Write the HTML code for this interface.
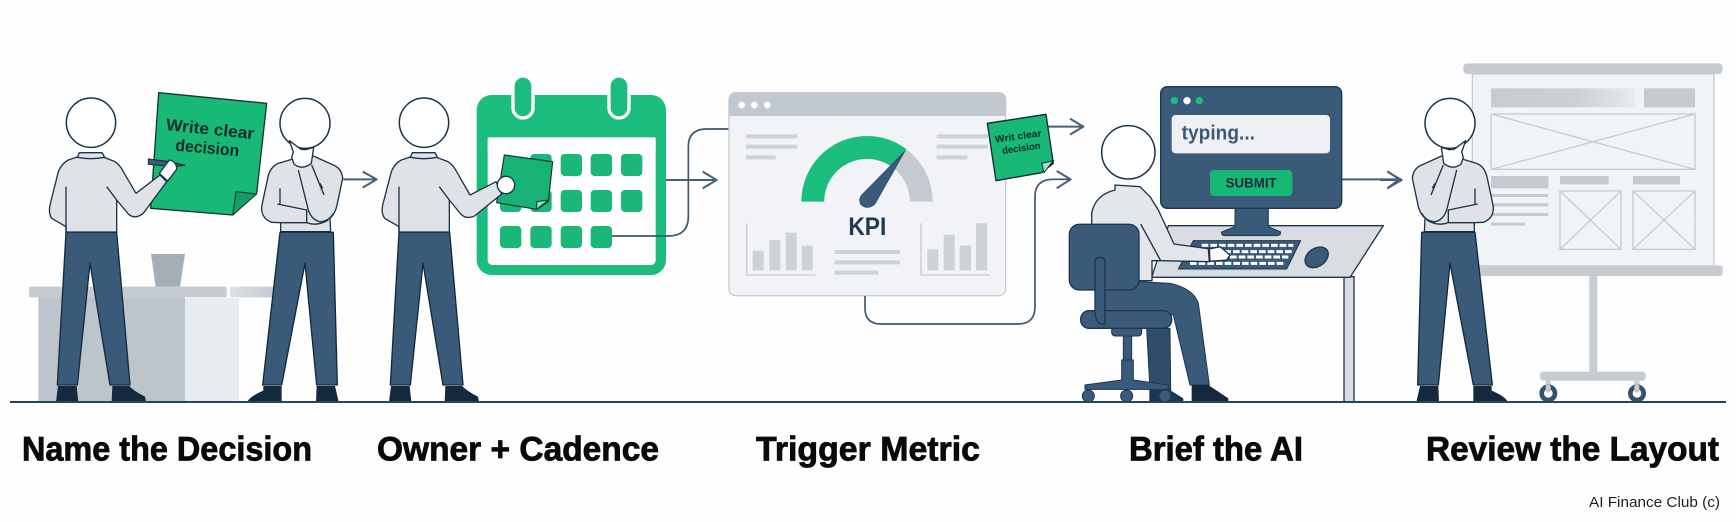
<!DOCTYPE html>
<html><head><meta charset="utf-8"><title>Decision Workflow</title>
<style>html,body{margin:0;padding:0;background:#fefefe}svg{display:block}
text{font-family:"Liberation Sans",sans-serif;font-weight:bold}</style></head>
<body>
<svg xmlns="http://www.w3.org/2000/svg" width="1736" height="522" viewBox="0 0 1736 522">
<defs>
<linearGradient id="fade" x1="0" x2="1" y1="0" y2="0"><stop offset="0" stop-color="#c5cbd1"/><stop offset=".6" stop-color="#ccd1d7"/><stop offset="1" stop-color="#e8ebee"/></linearGradient>
<linearGradient id="fade2" x1="0" x2="1" y1="0" y2="0"><stop offset="0" stop-color="#dde0e4"/><stop offset="1" stop-color="#c5cbd1"/></linearGradient>
<g id="legsA">
<path d="M198,547L350,547L390,1005L330,1005L270,640L232,1005L172,1005Z" fill="#3a5a7a" stroke="#16293c" stroke-width="4" stroke-linejoin="round"/>
<path d="M174,1008L230,1008L235,1056L168,1056Z" fill="#14293d"/>
<path d="M337,1008L388,1008Q400,1022 435,1040L438,1056L335,1056Z" fill="#14293d"/>
</g>
<g id="legsB">
<path d="M840,547L1000,547L1012,1005L950,1005L915,640L845,1005L788,1005Z" fill="#3a5a7a" stroke="#16293c" stroke-width="4" stroke-linejoin="round"/>
<path d="M790,1008L845,1008L845,1056L742,1056Q748,1040 790,1022Z" fill="#14293d"/>
<path d="M950,1008L1005,1008L1016,1056L948,1056Z" fill="#14293d"/>
</g>
<g id="thinker">
<use href="#legsB"/>
<path d="M875,328L835,340Q810,350 803,385L785,470Q783,505 815,517L842,518L842,547L992,547L990,505Q1005,490 1010,470L1028,385Q1025,355 1000,345L940,318Z" fill="#dfe3e8" stroke="#1c3348" stroke-width="4" stroke-linejoin="round"/>
<path d="M840,415V465M832,462L920,480V518M842,518H920Q950,530 985,510M895,360L925,480Q935,510 960,515Q985,515 1000,490M935,345L972,435M960,400L968,415" fill="none" stroke="#1c3348" stroke-width="4"/>
<path d="M842,545H992" stroke="#16293c" stroke-width="4"/>
</g>
<g id="thinkHand">
<path d="M868,272L903,298L918,299L941,292L934,340Q906,362 882,342L875,322L880,306Z" fill="#fff" stroke="#1c3348" stroke-width="4" stroke-linejoin="round"/>
</g>
</defs>
<rect width="1736" height="522" fill="#fefefe"/>

<!-- Panel 1 -->
<g transform="translate(0,50) scale(.33333)">
<path d="M453,612H555L540,710H467Z" fill="#a7adb5"/>
<rect x="87" y="710" width="593" height="32" rx="5" fill="#c5cbd1"/>
<rect x="690" y="710" width="130" height="32" rx="3" fill="url(#fade2)"/>
<rect x="115" y="742" width="440" height="314" fill="#bcc4cc"/>
<rect x="555" y="745" width="162" height="311" fill="#e8ecf0"/>
<path d="M476,128L800,160L770,430L698,495L452,475Z" fill="#18b876" stroke="#16352f" stroke-width="4" stroke-linejoin="round"/>
<path d="M708,425L770,432L698,495Z" fill="#12a067" stroke="#16352f" stroke-width="3" stroke-linejoin="round"/>
<text transform="translate(497,240) rotate(6)" font-size="50" fill="#102b2a" textLength="265" lengthAdjust="spacingAndGlyphs">Write clear</text>
<text transform="translate(525,302) rotate(5)" font-size="50" fill="#102b2a" textLength="192" lengthAdjust="spacingAndGlyphs">decision</text>
<path d="M445,327L510,335L555,346L515,350L445,343Z" fill="#3a5a7a" stroke="#16293c" stroke-width="3"/>
<use href="#legsA"/>
<path d="M235,320L205,330Q185,340 175,365L150,465Q145,490 155,505L198,530L198,547H350V450L385,492Q405,510 430,490L500,395L480,375L408,430L370,365Q360,345 345,335L312,322Z" fill="#dfe3e8" stroke="#1c3348" stroke-width="4" stroke-linejoin="round"/>
<path d="M198,410V547M320,410L350,450M198,546H350" fill="none" stroke="#1c3348" stroke-width="4"/>
<path d="M232,322L238,308H306L314,322Q272,330 232,322Z" fill="#dfe3e8" stroke="#1c3348" stroke-width="4"/>
<circle cx="273" cy="218" r="74" fill="#fff" stroke="#1c3348" stroke-width="4.5"/>
<path d="M478,370L508,330Q530,334 530,358L503,393Z" fill="#fff" stroke="#1c3348" stroke-width="4" stroke-linejoin="round"/>
<use href="#thinker"/>
<circle cx="915" cy="220" r="75" fill="#fff" stroke="#1c3348" stroke-width="4.5"/>
<use href="#thinkHand"/>
<path d="M1030,388H1128M1088,365L1130,388L1088,413" fill="none" stroke="#46607a" stroke-width="6" stroke-linejoin="round"/>
</g>

<!-- Panel 2 -->
<g transform="translate(370,50) scale(.33333)">
<rect x="320" y="135" width="568" height="540" rx="45" fill="#1bbd7e"/>
<rect x="353" y="262" width="504" height="383" rx="14" fill="#fff"/>
<path d="M353,262H857V300H353Z" fill="#fff"/>
<rect x="429" y="78" width="60" height="126" rx="30" fill="#1bbd7e" stroke="#fff" stroke-width="10"/>
<rect x="717" y="78" width="60" height="126" rx="30" fill="#1bbd7e" stroke="#fff" stroke-width="10"/>
<g fill="#1bb778">
<rect x="481" y="312" width="64" height="66" rx="12"/><rect x="572" y="312" width="64" height="66" rx="12"/><rect x="662" y="312" width="64" height="66" rx="12"/><rect x="753" y="312" width="64" height="66" rx="12"/>
<rect x="390" y="420" width="64" height="66" rx="12"/><rect x="481" y="420" width="64" height="66" rx="12"/><rect x="572" y="420" width="64" height="66" rx="12"/><rect x="662" y="420" width="64" height="66" rx="12"/><rect x="753" y="420" width="64" height="66" rx="12"/>
<rect x="390" y="528" width="64" height="66" rx="12"/><rect x="481" y="528" width="64" height="66" rx="12"/><rect x="572" y="528" width="64" height="66" rx="12"/><rect x="662" y="528" width="64" height="66" rx="12"/>
</g>
<path d="M725,558H895Q955,558 955,500V290Q955,237 1010,237H1078" fill="none" stroke="#3d5670" stroke-width="5"/>
<path d="M888,390H1038M998,365L1040,390L998,415" fill="none" stroke="#46607a" stroke-width="6" stroke-linejoin="round"/>
</g>
<g transform="translate(333,0)"><g transform="translate(0,50) scale(.33333)">
<use href="#legsA"/>
</g></g>
<g transform="translate(370,50) scale(.33333)">
<path d="M403,315L548,335L535,455L500,478L380,458Z" fill="#17b275" stroke="#16352f" stroke-width="3.5" stroke-linejoin="round"/>
<path d="M500,455L535,450L500,478Z" fill="#8fdcb9" stroke="#16352f" stroke-width="3"/>
<path d="M124,320L94,330Q74,340 64,365L38,465Q33,490 44,505L87,530V547H238V450L272,492Q290,510 315,497L395,432L378,395L300,435L260,365Q250,345 234,335L200,322Z" fill="#dfe3e8" stroke="#1c3348" stroke-width="4" stroke-linejoin="round"/>
<path d="M87,410V547M208,410L238,450M87,546H238" fill="none" stroke="#1c3348" stroke-width="4"/>
<path d="M121,322L127,308H195L203,322Q160,330 121,322Z" fill="#dfe3e8" stroke="#1c3348" stroke-width="4"/>
<circle cx="162" cy="218" r="74" fill="#fff" stroke="#1c3348" stroke-width="4.5"/>
<circle cx="408" cy="405" r="26" fill="#fff" stroke="#1c3348" stroke-width="4"/>
</g>

<!-- Panel 3 -->
<g transform="translate(710,70) scale(.33333)">
<rect x="57" y="68" width="830" height="609" rx="20" fill="#f1f3f6" stroke="#c6ccd3" stroke-width="4"/>
<path d="M57,138V88Q57,68 77,68H867Q887,68 887,88V138Z" fill="#c2c8cf"/>
<circle cx="95" cy="105" r="10" fill="#fff"/><circle cx="133" cy="105" r="10" fill="#fff"/><circle cx="172" cy="105" r="10" fill="#fff"/>
<g fill="#cdd2d8">
<rect x="108" y="193" width="154" height="12" rx="3"/><rect x="108" y="224" width="154" height="12" rx="3"/><rect x="108" y="256" width="89" height="12" rx="3"/>
<rect x="680" y="193" width="154" height="12" rx="3"/><rect x="680" y="224" width="154" height="12" rx="3"/><rect x="680" y="256" width="92" height="12" rx="3"/>
<rect x="373" y="540" width="197" height="12" rx="3"/><rect x="373" y="571" width="197" height="12" rx="3"/><rect x="373" y="602" width="132" height="12" rx="3"/>
<rect x="128" y="542" width="33" height="59"/><rect x="178" y="510" width="33" height="91"/><rect x="227" y="488" width="33" height="113"/><rect x="275" y="527" width="33" height="74"/>
<rect x="652" y="538" width="33" height="63"/><rect x="701" y="494" width="33" height="107"/><rect x="749" y="527" width="34" height="74"/><rect x="798" y="460" width="34" height="141"/>
</g>
<path d="M110,460V615H317M633,460V615H840" fill="none" stroke="#c5cbd1" stroke-width="4"/>
<path d="M274,395A197,197 0 0 1 589.6,237.7L548.3,292.4A128.5,128.5 0 0 0 342.5,395Z" fill="#1bbd7e"/>
<path d="M589.6,237.7A197,197 0 0 1 668,395H599.5A128.5,128.5 0 0 0 548.3,292.4Z" fill="#c5cad0"/>
<path d="M585,243L495,402Q472,422 452,403Q443,385 460,370Z" fill="#3a5a7a" stroke="#2a4560" stroke-width="2"/>
<text x="415" y="495" font-size="74" fill="#1e3a54" textLength="114" lengthAdjust="spacingAndGlyphs">KPI</text>
<path d="M465,678V715Q465,762 515,762H925Q975,762 975,710V380Q975,328 1030,328H1080" fill="none" stroke="#3d5670" stroke-width="5"/>
<path d="M1040,303L1082,328L1040,355" fill="none" stroke="#46607a" stroke-width="6" stroke-linejoin="round"/>
<path d="M1015,170H1118M1080,146L1120,170L1080,194" fill="none" stroke="#46607a" stroke-width="6" stroke-linejoin="round"/>
<path d="M832,160L1008,133L1030,280L995,308L858,332Z" fill="#18b876" stroke="#14272c" stroke-width="4" stroke-linejoin="round"/>
<path d="M995,280L1030,272L1002,308Z" fill="#9be0c2" stroke="#14272c" stroke-width="3"/>
<text transform="translate(856,218) rotate(-8)" font-size="29" fill="#102b2a" textLength="141" lengthAdjust="spacingAndGlyphs">Writ clear</text>
<text transform="translate(878,252) rotate(-8)" font-size="29" fill="#102b2a" textLength="116" lengthAdjust="spacingAndGlyphs">decision</text>
</g>

<!-- Panel 4 -->
<g transform="translate(1050,70) scale(.33333)">
<path d="M875,328H1046M1012,304L1048,328L1012,355" fill="none" stroke="#46607a" stroke-width="6" stroke-linejoin="round"/>
<path d="M882,620H912V997H882Z" fill="#d9dde2" stroke="#1d3650" stroke-width="4"/>
<path d="M355,467H1000L900,622H305Z" fill="#d9dde2" stroke="#1d3650" stroke-width="4" stroke-linejoin="round"/>
<path d="M555,410H655V470L692,486Q692,497 680,497H525Q513,497 515,486L555,470Z" fill="#3a5a7a" stroke="#1d3650" stroke-width="3"/>
<rect x="332" y="50" width="543" height="365" rx="20" fill="#3a5a7a" stroke="#1d3650" stroke-width="4"/>
<circle cx="373" cy="92" r="11" fill="#1bbd7e"/><circle cx="411" cy="92" r="11" fill="#fff"/><circle cx="448" cy="92" r="11" fill="#1bbd7e"/>
<rect x="365" y="135" width="475" height="115" rx="12" fill="#eef0f3"/>
<text x="395" y="208" font-size="62" fill="#3a5a7a" textLength="220" lengthAdjust="spacingAndGlyphs">typing...</text>
<rect x="480" y="300" width="247" height="78" rx="12" fill="#17b876"/>
<text x="527" y="353" font-size="42" fill="#14293d" textLength="153" lengthAdjust="spacingAndGlyphs">SUBMIT</text>
<path d="M430,512H752L710,597H385Z" fill="#3a5a7a" stroke="#1d3650" stroke-width="3" stroke-linejoin="round"/>
<g fill="none" stroke="#fff" stroke-dasharray="20 6">
<path d="M455,526H730" stroke-width="9"/>
<path d="M445,545H725" stroke-width="9"/>
<path d="M540,561H715" stroke-width="9"/>
<path d="M420,580H700" stroke-width="9"/>
</g>
<ellipse cx="800" cy="562" rx="38" ry="27" transform="rotate(-35 800 562)" fill="#3a5a7a" stroke="#1d3650" stroke-width="4"/>
<path d="M195,345L270,350L300,380L325,420L372,522L475,536L478,575L332,572L306,572V632H125V430Q135,375 195,360Z" fill="#e3e6ea" stroke="#1c3348" stroke-width="4" stroke-linejoin="round"/>
<path d="M272,462L332,572" fill="none" stroke="#1c3348" stroke-width="4"/>
<path d="M478,537L510,530L540,555L530,570L480,574Z" fill="#fff" stroke="#1c3348" stroke-width="4" stroke-linejoin="round"/>
<circle cx="235" cy="247" r="80" fill="#fff" stroke="#1c3348" stroke-width="4.5"/>
<path d="M290,775H360L362,960H300Z" fill="#2f4e6c" stroke="#1d3650" stroke-width="3"/>
<path d="M165,660L270,635L360,640Q430,655 445,700L478,945H420L370,735L165,735Z" fill="#3a5a7a" stroke="#1d3650" stroke-width="3" stroke-linejoin="round"/>
<path d="M298,960H360L400,985V997H298Z" fill="#1d3650"/>
<path d="M425,945H475L535,985V997H425Z" fill="#14293d"/>
<rect x="220" y="795" width="25" height="80" fill="#3a5a7a" stroke="#1d3650" stroke-width="3"/>
<path d="M215,870H250V930L355,945V958H105V945L215,930Z" fill="#3a5a7a" stroke="#1d3650" stroke-width="3"/>
<circle cx="115" cy="978" r="18" fill="#3a5a7a" stroke="#1d3650" stroke-width="3"/><circle cx="230" cy="978" r="18" fill="#3a5a7a" stroke="#1d3650" stroke-width="3"/><circle cx="345" cy="978" r="18" fill="#3a5a7a" stroke="#1d3650" stroke-width="3"/>
<rect x="185" y="770" width="90" height="28" rx="10" fill="#3a5a7a" stroke="#1d3650" stroke-width="3"/>
<rect x="92" y="722" width="273" height="53" rx="25" fill="#3a5a7a" stroke="#1d3650" stroke-width="4"/>
<rect x="58" y="463" width="209" height="197" rx="30" fill="#3a5a7a" stroke="#1d3650" stroke-width="4"/>
<path d="M135,578Q135,562 150,562Q165,562 165,578V762H150Q135,750 135,725Z" fill="#3a5a7a" stroke="#1d3650" stroke-width="4"/>
</g>

<!-- Panel 5 -->
<g transform="translate(1380,50) scale(.33333)">
<path d="M0,390H63M22,365L65,390L22,415" fill="none" stroke="#46607a" stroke-width="6" stroke-linejoin="round"/>
<rect x="277" y="72" width="725" height="576" fill="#f1f4f7" stroke="#c5cbd1" stroke-width="4"/>
<rect x="250" y="40" width="778" height="32" rx="12" fill="#c5cbd1"/>
<rect x="250" y="646" width="778" height="32" rx="8" fill="#c5cbd1"/>
<rect x="628" y="678" width="24" height="287" fill="#c5cbd1"/>
<rect x="480" y="965" width="317" height="27" rx="10" fill="#c5cbd1"/>
<rect x="497" y="992" width="15" height="25" fill="#c5cbd1"/><rect x="763" y="992" width="15" height="25" fill="#c5cbd1"/>
<circle cx="505" cy="1030" r="20" fill="#fff" stroke="#34526f" stroke-width="14"/>
<circle cx="771" cy="1030" r="20" fill="#fff" stroke="#34526f" stroke-width="14"/>
<rect x="497" y="1003" width="15" height="25" rx="7" fill="#c5cbd1"/><rect x="763" y="1003" width="15" height="25" rx="7" fill="#c5cbd1"/>
<rect x="333" y="115" width="432" height="57" fill="url(#fade)"/>
<rect x="792" y="115" width="153" height="57" fill="#c5cbd1"/>
<path d="M333,192H945V358H333ZM333,192L945,358M945,192L333,358" fill="none" stroke="#c5cbd1" stroke-width="4"/>
<rect x="333" y="378" width="172" height="37" fill="#c5cbd1"/>
<rect x="333" y="432" width="172" height="9" fill="#c5cbd1"/><rect x="333" y="460" width="172" height="9" fill="#c5cbd1"/><rect x="333" y="489" width="172" height="9" fill="#c5cbd1"/><rect x="333" y="518" width="102" height="9" fill="#c5cbd1"/>
<rect x="540" y="378" width="146" height="25" fill="#c5cbd1"/><rect x="759" y="378" width="141" height="25" fill="#c5cbd1"/>
<path d="M540,423H723V598H540ZM540,423L723,598M723,423L540,598M759,423H945V598H759ZM759,423L945,598M945,423L759,598" fill="none" stroke="#c5cbd1" stroke-width="4"/>
</g>
<g transform="matrix(-.33333 0 0 .33333 1755 50)">
<use href="#thinker"/>
<circle cx="915" cy="220" r="75" fill="#fff" stroke="#1c3348" stroke-width="4.5"/>
<use href="#thinkHand"/>
</g>

<!-- Ground -->
<rect x="10" y="401" width="1716" height="2" fill="#2c4359"/>

<!-- Labels -->
<g fill="#0a0a0a" stroke="#0a0a0a" stroke-width=".8" font-size="34">
<text x="22" y="460.5" textLength="290" lengthAdjust="spacingAndGlyphs">Name the Decision</text>
<text x="377" y="460.5" textLength="282" lengthAdjust="spacingAndGlyphs">Owner + Cadence</text>
<text x="756" y="460.5" textLength="224" lengthAdjust="spacingAndGlyphs">Trigger Metric</text>
<text x="1129" y="460.5" textLength="174" lengthAdjust="spacingAndGlyphs">Brief the AI</text>
<text x="1426" y="460.5" textLength="293" lengthAdjust="spacingAndGlyphs">Review the Layout</text>
</g>
<text x="1589" y="507" font-size="15" fill="#222" style="font-weight:normal" textLength="131" lengthAdjust="spacingAndGlyphs">AI Finance Club (c)</text>
</svg>
</body></html>
